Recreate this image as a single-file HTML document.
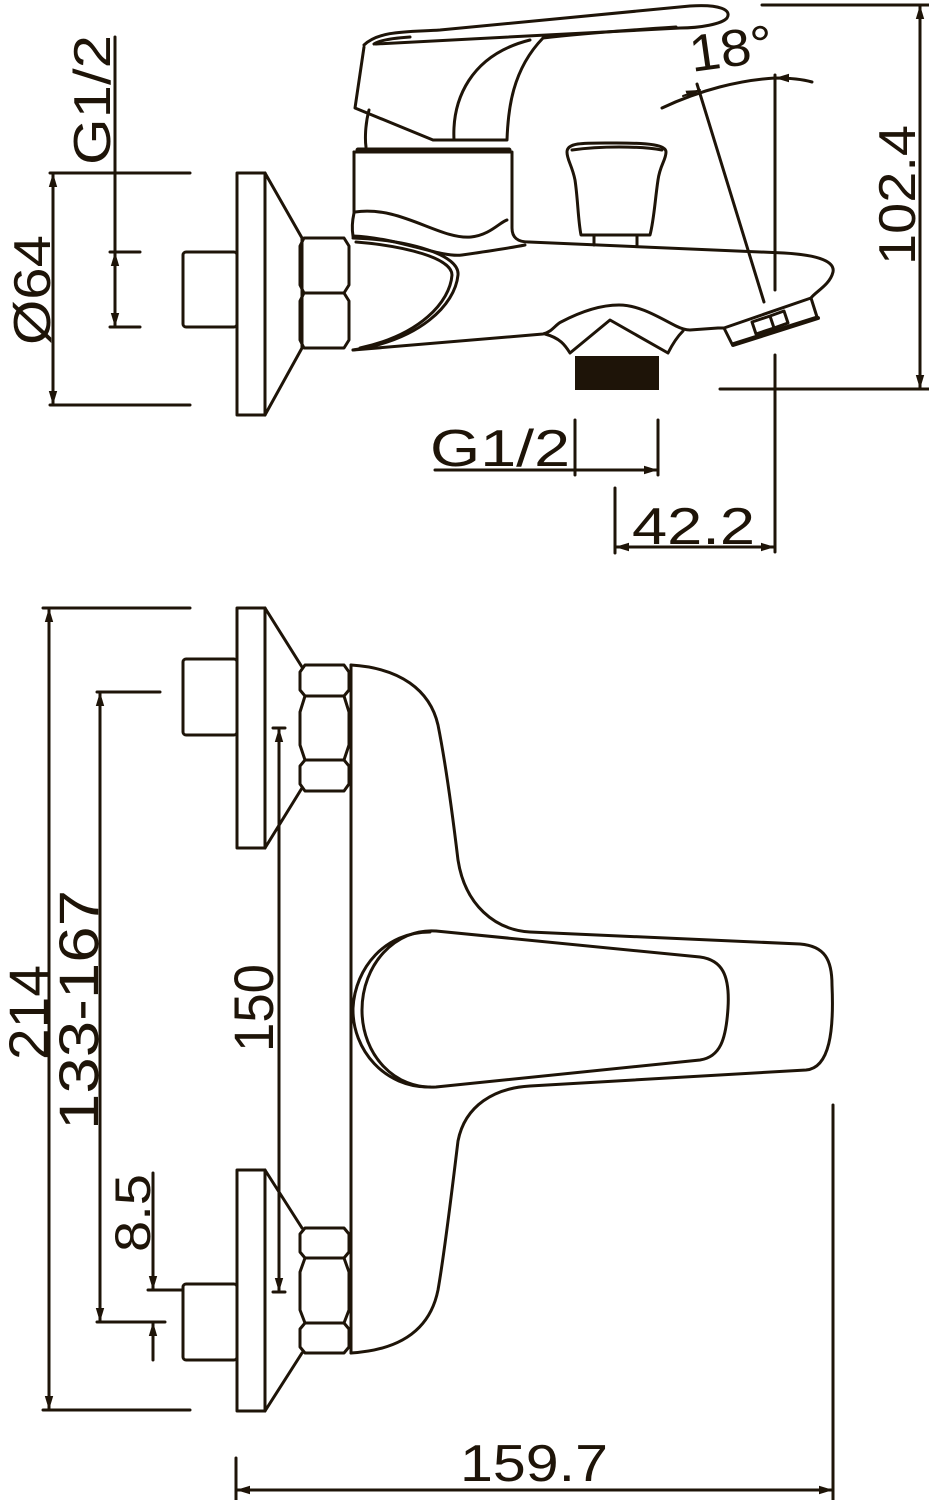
<!DOCTYPE html>
<html><head><meta charset="utf-8"><style>
html,body{margin:0;padding:0;background:#fff;}
svg{display:block;}
text{font-family:"Liberation Sans",sans-serif;fill:#1e1408;}
</style></head><body>
<svg width="929" height="1500" viewBox="0 0 929 1500" xmlns="http://www.w3.org/2000/svg">
<defs>
<marker id="a" viewBox="0 0 10 10" refX="10" refY="5" markerWidth="14" markerHeight="14" markerUnits="userSpaceOnUse" orient="auto-start-reverse"><path d="M0,2 L10,5 L0,8 Z" fill="#1e1408"/></marker>
</defs>
<g fill="none" stroke="#1e1408" stroke-width="3" stroke-linejoin="round" stroke-linecap="round">

<!-- ===== TOP VIEW ===== -->
<!-- wall plate -->
<rect x="237" y="173" width="28" height="242"/>
<path d="M265,173 L302,238 L302,348 L265,415"/>
<!-- stub -->
<rect x="183" y="252" width="54" height="75" rx="3"/>
<!-- nut -->
<path d="M304,238 L344,238 L349,246 L349,285 L344,293 L304,293 L300,285 L300,246 Z"/>
<path d="M304,293 L344,293 L349,301 L349,340 L344,348 L304,348 L300,340 L300,301 Z"/>
<!-- handle -->
<path d="M364,45 C380,30 410,32 440,30 L690,6 C720,4 732,10 727,18 C722,24 700,28 680,28 L376,44"/>
<path d="M374,44 C380,40 395,38 410,37 M676,27 C600,32 560,36 543,38"/>
<path d="M364,47 L355,108 L433,140 L507,140 C508,110 512,70 543,38"/>
<path d="M454,140 C452,100 470,55 530,40"/>
<path d="M369,110 C365,125 365,140 366,147"/>
<!-- collar -->
<line x1="358" y1="150" x2="509" y2="150" stroke-width="5"/>
<!-- upper body -->
<path d="M354,152 L512,152 L512,228 C512,238 518,242 529,242"/>
<path d="M354,152 L354,213 C352,222 352,230 353,236"/>
<path d="M355,212 C400,205 440,240 471,237 C490,235 500,222 507,220"/>
<!-- knob -->
<path d="M567,152 C567,142 585,143 616,143 C650,143 666,145 666,152 C666,160 660,165 658,180 C655,200 654,220 650,235 L581,235 C578,220 578,200 575,180 C572,165 567,160 567,152 Z"/>
<path d="M572,150 C600,146 640,146 662,150"/>
<path d="M594,235 L594,245 M637,235 L637,245"/>
<!-- spout -->
<path d="M529,242 L784,253 C820,255 835,262 833,272 C830,285 815,292 811,298"/>
<path d="M353,236 C400,238 440,258 462,255 C490,251 510,248 525,245"/>
<path d="M353,238 C410,240 460,255 458,275 C455,305 420,340 353,350"/>
<path d="M356,242 C405,246 452,258 452,275 C450,302 420,335 360,348"/>
<!-- bottom line + diverter -->
<path d="M353,350 L543,334 C552,332 555,325 561,322 C580,312 600,305 619,305 C640,305 660,318 676,326 C680,328 685,330 690,330 L718,328 L724,328"/>
<path d="M545,334 C560,338 565,345 570,353 L610,320 L668,353 C672,345 678,336 683,331"/>
<rect x="575" y="356" width="84" height="34" fill="#1e1408" stroke="none"/>
<!-- aerator -->
<path d="M724,328 L811,298 L817,317 L732,344 Z"/>
<path d="M752,322 L770,316 L774,328 L756,334 Z M770,316 L784,311 L788,323 L774,328"/>
<line x1="733" y1="345" x2="818" y2="318" stroke-width="4"/>

<!-- 18 deg -->
<line x1="697" y1="84" x2="764" y2="302"/>
<path d="M662,108 C700,90 740,80 775,78 C795,78 805,80 812,82"/>
<path d="M683,96 L700,90" marker-end="url(#a)" stroke-width="2"/>
<path d="M790,78 L775,78" marker-end="url(#a)" stroke-width="2"/>
<line x1="775" y1="75" x2="775" y2="290"/>
<line x1="775" y1="355" x2="775" y2="552"/>

<!-- 102.4 -->
<line x1="762" y1="5" x2="929" y2="5"/>
<line x1="720" y1="389" x2="929" y2="389"/>
<line x1="920" y1="5" x2="920" y2="389" marker-start="url(#a)" marker-end="url(#a)"/>

<!-- 42.2 -->
<line x1="615" y1="488" x2="615" y2="553"/>
<line x1="615" y1="547" x2="775" y2="547" marker-start="url(#a)" marker-end="url(#a)"/>

<!-- G1/2 bottom -->
<line x1="575" y1="420" x2="575" y2="475"/>
<line x1="658" y1="420" x2="658" y2="475"/>
<line x1="435" y1="470" x2="575" y2="470"/>
<line x1="575" y1="470" x2="658" y2="470" marker-end="url(#a)"/>

<!-- left dims top -->
<line x1="50" y1="173" x2="190" y2="173"/>
<line x1="50" y1="405" x2="190" y2="405"/>
<line x1="53" y1="173" x2="53" y2="405" marker-start="url(#a)" marker-end="url(#a)"/>
<line x1="115" y1="37" x2="115" y2="327"/>
<line x1="110" y1="252" x2="140" y2="252"/>
<line x1="110" y1="327" x2="140" y2="327"/>
<line x1="115" y1="290" x2="115" y2="252" marker-end="url(#a)"/>
<line x1="115" y1="290" x2="115" y2="327" marker-end="url(#a)"/>

<!-- ===== FRONT VIEW ===== -->
<!-- top plate -->
<rect x="237" y="608" width="28" height="240"/>
<path d="M265,608 L302,667 M302,788 L265,848"/>
<rect x="183" y="659" width="54" height="76" rx="3"/>
<path d="M305,665 L344,665 L349,672 L349,690 L344,696 L305,696 L300,690 L300,672 Z"/>
<path d="M305,696 L344,696 L349,712 L349,745 L344,760 L305,760 L300,745 L300,712 Z"/>
<path d="M305,760 L344,760 L349,766 L349,784 L344,791 L305,791 L300,784 L300,766 Z"/>
<!-- bottom plate -->
<rect x="237" y="1170" width="28" height="241"/>
<path d="M265,1170 L302,1228 M302,1353 L265,1411"/>
<rect x="183" y="1284" width="54" height="76" rx="3"/>
<path d="M305,1228 L344,1228 L349,1234 L349,1252 L344,1258 L305,1258 L300,1252 L300,1234 Z"/>
<path d="M305,1258 L344,1258 L349,1272 L349,1310 L344,1323 L305,1323 L300,1310 L300,1272 Z"/>
<path d="M305,1323 L344,1323 L349,1329 L349,1347 L344,1353 L305,1353 L300,1347 L300,1329 Z"/>
<!-- body -->
<line x1="351" y1="665" x2="351" y2="1353"/>
<path d="M351,665 C400,668 430,690 438,725 C445,760 452,810 458,860 C465,905 495,930 530,932 L800,944 C825,946 832,960 832,985 C834,1030 830,1068 806,1070 L530,1086 C495,1088 465,1105 458,1141 C452,1190 445,1250 438,1290 C430,1330 400,1350 351,1353"/>
<!-- lever -->
<path d="M436,931 L700,957 C722,960 730,975 728,1008 C726,1040 720,1057 700,1060 L436,1087 C395,1090 362,1055 362,1010 C362,965 395,928 436,931 Z"/>
<path d="M430,932 C385,932 355,968 353,1008 C352,1050 385,1088 430,1087"/>

<!-- 150 -->
<line x1="273" y1="728" x2="285" y2="728"/>
<line x1="273" y1="1292" x2="285" y2="1292"/>
<line x1="279" y1="728" x2="279" y2="1292" marker-start="url(#a)" marker-end="url(#a)"/>

<!-- 214 -->
<line x1="43" y1="608" x2="190" y2="608"/>
<line x1="43" y1="1410" x2="190" y2="1410"/>
<line x1="49" y1="608" x2="49" y2="1410" marker-start="url(#a)" marker-end="url(#a)"/>
<!-- 133-167 -->
<line x1="97" y1="692" x2="160" y2="692"/>
<line x1="97" y1="1322" x2="165" y2="1322"/>
<line x1="100" y1="692" x2="100" y2="1322" marker-start="url(#a)" marker-end="url(#a)"/>
<!-- 8.5 -->
<line x1="148" y1="1290" x2="183" y2="1290"/>
<line x1="153" y1="1173" x2="153" y2="1290" marker-end="url(#a)"/>
<line x1="153" y1="1360" x2="153" y2="1322" marker-end="url(#a)"/>

<!-- 159.7 -->
<line x1="236" y1="1458" x2="236" y2="1500"/>
<line x1="833" y1="1105" x2="833" y2="1500"/>
<line x1="236" y1="1490" x2="833" y2="1490" marker-start="url(#a)" marker-end="url(#a)"/>
</g>

<!-- texts -->
<g font-size="52">
<text transform="translate(110,165) rotate(-90)" textLength="130" lengthAdjust="spacingAndGlyphs">G1/2</text>
<text transform="translate(50,345) rotate(-90)" textLength="110" lengthAdjust="spacingAndGlyphs">Ø64</text>
<text transform="translate(915,265) rotate(-90)" textLength="140" lengthAdjust="spacingAndGlyphs">102.4</text>
<text transform="translate(692,72) rotate(-8)" textLength="84" lengthAdjust="spacingAndGlyphs">18°</text>
<text x="430" y="466" textLength="140" lengthAdjust="spacingAndGlyphs">G1/2</text>
<text x="632" y="544" textLength="123" lengthAdjust="spacingAndGlyphs">42.2</text>
<text x="460" y="1481" textLength="148" lengthAdjust="spacingAndGlyphs">159.7</text>
<text transform="translate(48,1060) rotate(-90)" font-size="56" textLength="95" lengthAdjust="spacingAndGlyphs">214</text>
<text transform="translate(98,1130) rotate(-90)" font-size="56" textLength="240" lengthAdjust="spacingAndGlyphs">133-167</text>
<text transform="translate(273,1052) rotate(-90)" font-size="56" textLength="88" lengthAdjust="spacingAndGlyphs">150</text>
<text transform="translate(150,1252) rotate(-90)" font-size="50" textLength="78" lengthAdjust="spacingAndGlyphs">8.5</text>
</g>
</svg>
</body></html>
